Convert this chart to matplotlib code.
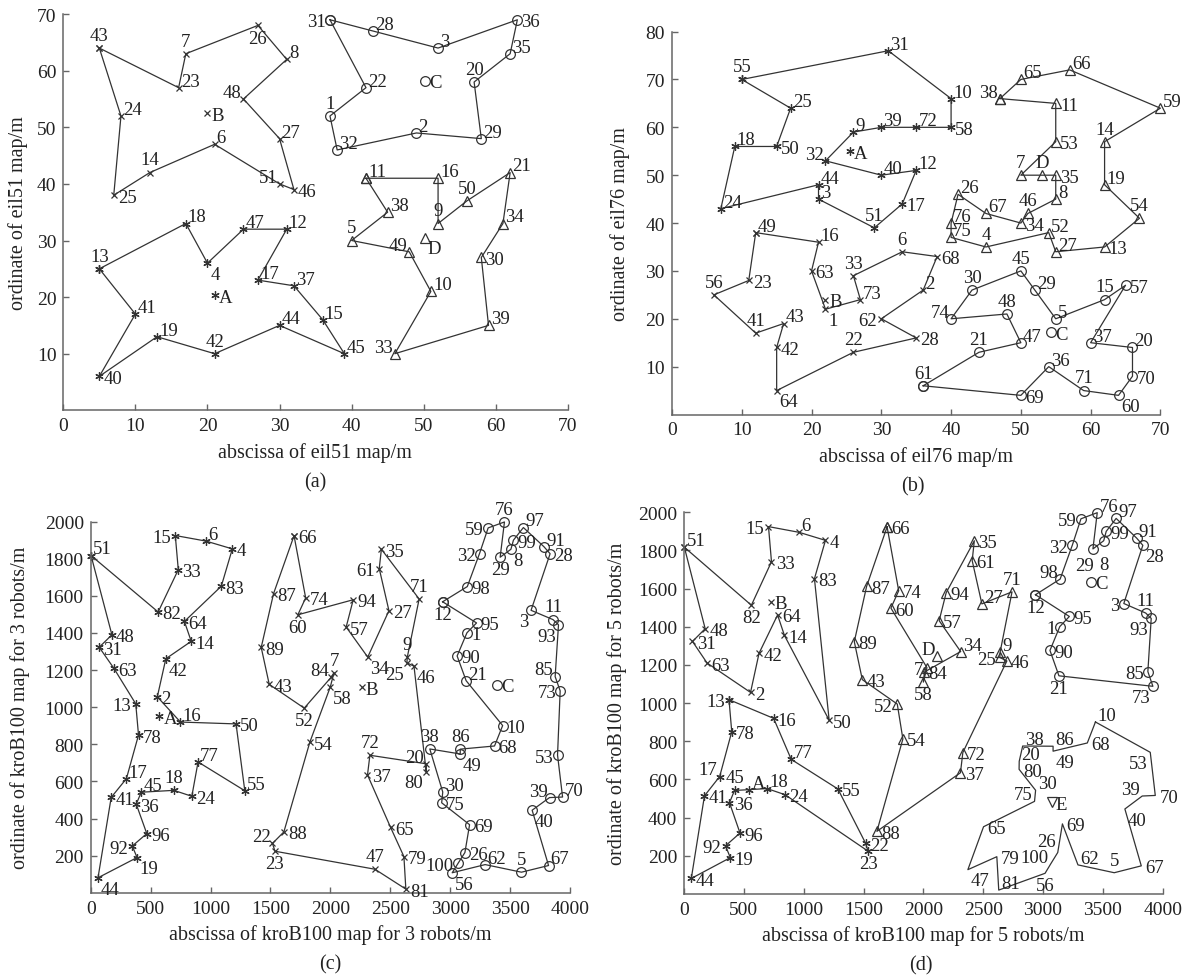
import matplotlib
matplotlib.use('Agg')
import matplotlib.pyplot as plt

plt.rcParams['font.family'] = ['Liberation Serif', 'DejaVu Serif']

# ---------------- data ----------------
eil51_x = [37,49,52,20,40,21,17,31,52,51,42,31,5,12,36,52,27,17,13,57,62,42,16,8,7,27,30,43,58,58,
           37,38,46,61,62,63,32,45,59,5,10,21,5,30,39,32,25,25,48,56,30]
eil51_y = [52,49,64,26,30,47,63,62,33,21,41,32,25,42,16,41,23,33,13,58,42,57,57,52,38,68,48,67,48,27,
           69,46,10,33,63,69,22,35,15,6,17,10,64,15,10,39,32,55,28,37,40]

eil76_x = [22,36,21,45,55,33,50,55,26,40,55,35,62,62,62,21,33,9,62,66,44,26,11,7,17,41,55,35,52,43,
           31,22,26,50,55,54,60,47,30,30,12,15,16,21,50,51,50,48,12,15,29,54,55,67,10,6,65,40,70,64,
           36,30,20,15,50,57,45,38,50,66,59,35,27,40,40,40]
eil76_y = [22,26,45,35,20,34,50,45,59,66,65,51,35,57,24,36,44,56,48,14,13,13,28,43,64,46,34,16,26,26,
           76,53,29,40,50,10,15,66,60,50,17,14,19,48,30,42,15,21,38,56,39,38,57,41,70,25,27,60,64,4,
           6,20,30,5,70,72,42,33,4,8,5,60,24,20,37,40]

kro_x = [3140,556,3675,1182,3595,962,2030,3507,2642,3438,3858,2937,376,839,706,749,298,694,387,2801,
         3133,1517,1538,844,2639,3123,2489,3834,3417,2938,71,3245,731,2312,2426,380,2310,2830,3829,3684,
         171,627,1490,61,422,2698,2372,177,3084,1213,3,1782,3896,1829,1286,3017,2132,2000,3317,1729,
         2408,3292,193,782,2503,1697,3821,3370,3162,3938,2741,2330,3918,1794,2929,3453,896,399,2614,2800,
         2630,563,1090,2009,3876,3084,1526,1612,1423,3058,3782,347,3904,2191,3220,468,3611,3143,3528,3065]
kro_y = [1401,1056,1522,1853,111,1895,1186,1851,1269,901,1472,1568,1018,1355,1925,920,615,552,190,695,
         1143,266,224,520,1239,217,1520,1827,1808,543,1323,1828,1741,1270,1851,478,635,775,513,445,
         514,1261,1123,81,542,1221,127,1390,748,910,1817,995,742,812,550,108,1432,1110,1966,1498,
         1747,152,1210,1462,352,1924,147,791,367,516,1583,741,1088,1589,485,1998,705,850,195,653,
         20,1513,1652,1163,1165,774,1612,328,1322,1276,1865,252,1444,1579,1454,319,1968,1650,1900,158]

# tours (a) eil51, 4 robots
a_tourA = [13,18,4,47,12,17,37,15,45,44,42,19,40,41,13]
a_tourB = [43,23,7,26,8,48,27,46,51,6,14,25,24,43]
a_tourC = [31,28,3,36,35,20,29,2,32,1,22,31]
a_tourD = [11,16,9,50,21,34,30,39,33,10,49,5,38,11]
a_depot_names = ['A','B','C','D']
a_depot_x = [21, 20, 50.2, 50.2]
a_depot_y = [20.3, 52.5, 58.2, 30.5]

# tours (b) eil76, 4 robots
b_tourA = [55,31,10,58,72,39,9,32,40,12,17,51,3,44,24,18,50,25,55]
b_tourB = [49,16,63,1,73,33,6,68,2,62,28,22,64,42,43,41,56,23,49]
b_tourC = [61,21,47,48,74,30,45,29,5,15,57,37,20,70,60,71,36,69,61]
b_tourD = [38,65,66,59,14,19,54,13,27,52,4,75,76,26,67,34,46,8,35,7,53,11,38]
b_depot_names = ['A','B','C','D']
b_depot_x = [25.5, 22, 54.3, 53]
b_depot_y = [55, 24, 17.2, 50]

# tours (c) kroB100, 3 robots
c_tourA = [51,82,33,15,6,4,83,64,14,42,2,16,50,55,77,24,18,45,36,96,92,19,44,41,17,78,13,63,31,48,51]
c_tourB = [66,74,60,94,57,34,27,61,35,71,9,25,46,80,20,72,37,65,79,81,47,23,22,88,54,58,7,84,52,43,89,87,66]
c_tourC = [12,98,32,59,76,29,8,99,97,91,28,3,11,93,85,73,53,70,39,40,67,5,62,56,100,26,69,75,30,38,49,86,68,10,21,90,1,95,12]
c_depot_names = ['A','B','C']
c_depot_x = [573, 2262, 3394]
c_depot_y = [951, 1107, 1121]

# tours (d) kroB100, 5 robots
d_tourA = [13,16,77,55,22,23,24,18,45,36,96,92,19,44,41,17,78,13]
d_tourB = [51,82,33,15,6,4,83,50,14,64,42,2,63,31,48,51]
d_tourC = [12,98,32,59,76,29,8,99,97,91,28,3,11,93,85,73,21,90,1,95,12]
d_tourD = [66,74,60,7,58,84,34,57,94,35,61,27,71,9,25,46,72,37,88,54,52,43,89,87,66]
d_tourE = [10,68,49,86,38,20,80,30,75,65,47,79,81,56,100,26,69,62,5,67,40,39,70,53,10]
d_depot_names = ['A','B','C','D','E']
d_depot_x = [546, 725, 3400, 2117, 3072]
d_depot_y = [546, 1530, 1636, 1248, 480]

x_labels = ['abscissa of eil51 map/m', 'abscissa of eil76 map/m',
            'abscissa of kroB100 map for 3 robots/m', 'abscissa of kroB100 map for 5 robots/m']
y_labels = ['ordinate of eil51 map/m', 'ordinate of eil76 map/m',
            'ordinate of kroB100 map for 3 robots/m', 'ordinate of kroB100 map for 5 robots/m']
captions = ['(a)', '(b)', '(c)', '(d)']

# ---------------- style ----------------
LAB_A = "43:u 7:u 26:d 48:lu 14:u 51:lu 46:r 25:r 40:r 13:u 4:rd 42:u 31:l 36:r 20:u 1:u 5:u 49:lu 33:lu 30:r 50:u 9:u B:r C:r D:rd"
LAB_B = ("55:u 50:r 58:r 32:lu A:r 17:r 51:u 44:ru 56:u 41:u 42:r 64:rd 1:rd B:r 33:u 6:u 62:l 22:u 28:r 68:r "
         "38:lu 11:r 14:u 53:r 54:u 13:r 7:u D:u 35:r 46:u 34:r 4:u 45:u 30:u 74:lu 48:u C:r 15:u 57:r 21:u "
         "61:u 71:u 70:r 60:rd 69:r 63:r 23:r")
LAB_C = ("15:l 4:r 33:r 83:r 82:r 64:r 14:r 48:r 31:r 63:r 42:rd 2:r 13:l A:r 78:r 17:ru 45:ru 18:u 41:r 36:r 24:r "
         "96:r 92:l 19:rd 44:rd 50:r 66:r 87:r 74:r 60:d 94:r 57:r 89:r 43:r 84:lu 7:u 58:rd B:r 52:d 54:r "
         "72:u 37:r 22:lu 88:r 23:d 47:u 35:r 61:l 27:r 34:rd 9:u 25:ld 46:rd 71:u 65:r 79:r 81:r 80:ld "
         "20:lu 76:u 59:l 32:l 28:r 29:d 8:rd 99:r 98:r 12:d 95:r 3:ld 11:u 93:ld 1:r 90:r 85:lu 73:l "
         "10:r 38:u 86:u 49:rd 68:r 53:l 30:ru 75:r 70:ru 39:lu 40:rd 69:r 26:r 100:l 5:u 56:rd C:r")
LAB_D = ("15:l 4:r 33:r 83:r 82:d B:r 64:r 14:r 48:r 31:r 63:r 42:r 2:r 13:l 16:r 78:r 17:lu 45:u A:ru 18:ru 24:r "
         "41:r 36:r 96:r 92:l 19:r 44:r 50:r 55:r 22:r 23:d 66:r 87:r 74:r 60:r 89:r 43:r 52:l 54:r 72:r "
         "37:r 88:r 35:r 61:r 94:r 57:r D:lu 34:ru 7:l 84:r 58:d 25:l 9:ru 46:r 71:u C:r 59:l 32:l 28:rd "
         "29:dl 8:dd 99:r 98:lu 12:d 95:r 1:l 90:r 3:l 11:u 93:ld 85:l 73:ld 21:d 10:ru 38:ru 86:ru 68:r 49:rd "
         "20:ru 80:r 30:ru 75:lu 53:ld 39:lu 70:r 40:rd 65:r 47:rd 79:r 81:ru 100:lu 56:d 26:luu 69:r "
         "62:ru 5:u 67:r E:r")

OFFS = {'ru': (1.5, 1.5, 'left', 'baseline'), 'r': (3, 0, 'left', 'center_baseline'),
        'rd': (2, -2, 'left', 'top'), 'u': (0, 3, 'center', 'bottom'),
        'd': (0, -3, 'center', 'top'), 'lu': (-1.5, 1.5, 'right', 'baseline'),
        'l': (-3, 0, 'right', 'center_baseline'), 'ld': (-2, -2, 'right', 'top'),
        'luu': (-1.5, 5, 'right', 'baseline'), 'dl': (-6, -5.5, 'center', 'top'),
        'dd': (0, -11, 'center', 'top')}

LC = '#333333'
W, H = 1190, 979
LFS = 13.5
TFS = 14

def parse(s):
    d = {}
    for tok in s.split():
        k, v = tok.split(':')
        d[k] = v
    return d

# marker styles: (marker, size, filled)
MK = {'*': ((6, 2, 0), 6, True),
      'x': ('x', 4.5, True),
      'o': ('o', 7, False),
      '^': ('^', 7.5, False),
      'v': ('v', 7.5, False),
      None: ('None', 0, True)}

def mkw(m):
    mk, ms, filled = MK[m]
    return dict(marker=mk, ms=ms, mew=0.9, mec=LC, mfc=(LC if filled else 'none'))

def put_label(ax, txt, x, y, code):
    dx, dy, ha, va = OFFS[code]
    ax.annotate(txt, (x, y), xytext=(dx, dy), textcoords='offset points',
                ha=ha, va=va, fontsize=LFS, color='#222222', annotation_clip=False)

def panel(box, xs, ys, tours, marks, dn, dx_, dy_, dmarks, labs, xlim, ylim, xt, yt):
    l, t, r, b = box
    ax = fig.add_axes([l / W, 1 - b / H, (r - l) / W, (b - t) / H])
    codes = parse(labs)
    for tour, m in zip(tours, marks):
        px = [xs[i - 1] for i in tour]
        py = [ys[i - 1] for i in tour]
        ax.plot(px, py, color=LC, lw=0.9, clip_on=False, **mkw(m))
        for i in tour[:-1]:
            put_label(ax, str(i), xs[i - 1], ys[i - 1], codes.get(str(i), 'ru'))
    for name, x, y, m in zip(dn, dx_, dy_, dmarks):
        ax.plot([x], [y], ls='none', clip_on=False, **mkw(m))
        put_label(ax, name, x, y, codes.get(name, 'r'))
    ax.set_xlim(*xlim)
    ax.set_ylim(*ylim)
    ax.set_xticks(xt)
    ax.set_yticks(yt)
    for s in ['top', 'right']:
        ax.spines[s].set_visible(False)
    for s in ['left', 'bottom']:
        ax.spines[s].set_color('#666666')
        ax.spines[s].set_linewidth(1.1)
    ax.tick_params(direction='in', length=4, width=1, color='#666666',
                   labelsize=TFS, pad=5, labelcolor='#222222')
    return ax

fig = plt.figure(figsize=(W / 100, H / 100), dpi=100)

boxes = [(63.3, 15.1, 567.8, 411.3), (672, 32.6, 1160.4, 415.5),
         (90.7, 522.6, 570, 893.8), (684, 513.3, 1162.7, 894.9)]

axa = panel(boxes[0], eil51_x, eil51_y, [a_tourA, a_tourB, a_tourC, a_tourD], ['*', 'x', 'o', '^'],
            a_depot_names, a_depot_x, a_depot_y, ['*', 'x', 'o', '^'], LAB_A,
            (0, 70), (0, 70), range(0, 71, 10), range(10, 71, 10))
axb = panel(boxes[1], eil76_x, eil76_y, [b_tourA, b_tourB, b_tourC, b_tourD], ['*', 'x', 'o', '^'],
            b_depot_names, b_depot_x, b_depot_y, ['*', 'x', 'o', '^'], LAB_B,
            (0, 70), (0, 80), range(0, 71, 10), range(10, 81, 10))
axc = panel(boxes[2], kro_x, kro_y, [c_tourA, c_tourB, c_tourC], ['*', 'x', 'o'],
            c_depot_names, c_depot_x, c_depot_y, ['*', 'x', 'o'], LAB_C,
            (0, 4000), (0, 2000), range(0, 4001, 500), range(200, 2001, 200))
axd = panel(boxes[3], kro_x, kro_y, [d_tourA, d_tourB, d_tourC, d_tourD, d_tourE], ['*', 'x', 'o', '^', None],
            d_depot_names, d_depot_x, d_depot_y, ['*', 'x', 'o', '^', 'v'], LAB_D,
            (0, 4000), (0, 2000), range(0, 4001, 500), range(200, 2001, 200))

xl_pos = [(315, 453), (916, 457), (330, 935), (923, 936)]
cap_pos = [(315, 483), (913, 487), (330, 965), (921, 966)]
yl_pos = [(18, 213), (620, 224), (20, 708), (617, 704)]
for i in range(4):
    fig.text(xl_pos[i][0] / W, 1 - xl_pos[i][1] / H, x_labels[i], ha='center', va='center', fontsize=14.5, color='#222222')
    fig.text(cap_pos[i][0] / W, 1 - cap_pos[i][1] / H, captions[i], ha='center', va='center', fontsize=14.5, color='#222222')
    fig.text(yl_pos[i][0] / W, 1 - yl_pos[i][1] / H, y_labels[i], ha='center', va='center', rotation=90,
             fontsize=14.5, color='#222222')

fig.savefig('out.png', dpi=100)
